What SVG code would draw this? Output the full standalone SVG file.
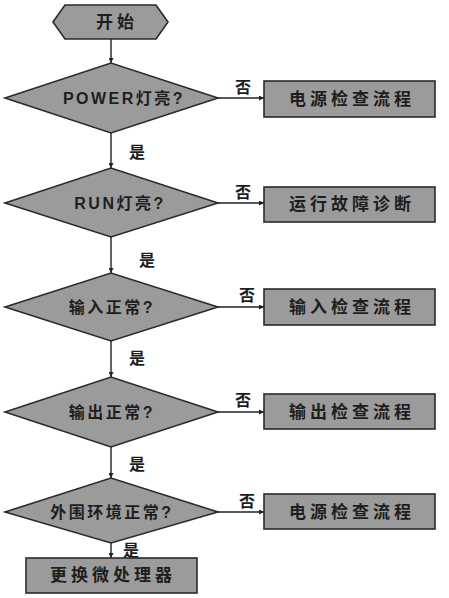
<svg xmlns="http://www.w3.org/2000/svg" width="449" height="598" viewBox="0 0 449 598">
<defs>
<marker id="ah" viewBox="0 0 6 6" refX="6" refY="3" markerWidth="5" markerHeight="5" orient="auto" markerUnits="userSpaceOnUse">
<path d="M0,0 L6,3 L0,6 Z" fill="#222"/>
</marker>
<style>
.shape{fill:#9b9b9b;stroke:#2a2a2a;stroke-width:1.6}
.t{font-family:"Liberation Sans","Noto Sans CJK SC",sans-serif;font-weight:bold;fill:#1e1e1e;text-anchor:middle;dominant-baseline:central}
.bt{font-size:17px;letter-spacing:4px}
.dt{font-size:16px;letter-spacing:2.5px}
.lb{font-size:16px}
.c{stroke:#222;stroke-width:1.4;fill:none;marker-end:url(#ah)}
</style>
</defs>
<rect width="449" height="598" fill="#fff"/>
<g id="connectors">
<line class="c" x1="111" y1="39" x2="111" y2="63"/>
<line class="c" x1="111" y1="133" x2="111" y2="168"/>
<line class="c" x1="111" y1="237" x2="111" y2="273"/>
<line class="c" x1="111" y1="341" x2="111" y2="377"/>
<line class="c" x1="111" y1="447" x2="111" y2="478"/>
<line class="c" x1="111" y1="543" x2="111" y2="558"/>
<line class="c" x1="218" y1="98" x2="264" y2="98"/>
<line class="c" x1="218" y1="203" x2="264" y2="203"/>
<line class="c" x1="218" y1="307" x2="264" y2="307"/>
<line class="c" x1="218" y1="412" x2="264" y2="412"/>
<line class="c" x1="218" y1="512" x2="264" y2="512"/>
<text class="t lb" x="243" y="87">否</text>
<text class="t lb" x="243" y="192">否</text>
<text class="t lb" x="247" y="295">否</text>
<text class="t lb" x="243" y="400">否</text>
<text class="t lb" x="247" y="501">否</text>
<text class="t lb" x="137" y="152">是</text>
<text class="t lb" x="147" y="260">是</text>
<text class="t lb" x="137" y="358">是</text>
<text class="t lb" x="137" y="464">是</text>
<text class="t lb" x="131" y="550">是</text>
</g>
<g id="start">
<polygon class="shape" points="53,22 65,5 156,5 168,22 156,39 65,39"/>
<text class="t bt" x="117" y="22">开始</text>
</g>
<g id="d1">
<polygon class="shape" points="5,98 111,63 218,98 111,133"/>
<text class="t dt" x="124" y="98">POWER灯亮?</text>
</g>
<g id="b1">
<rect class="shape" x="264" y="81" width="171" height="36"/>
<text class="t bt" x="352" y="99">电源检查流程</text>
</g>
<g id="d2">
<polygon class="shape" points="5,203 111,168 218,203 111,237"/>
<text class="t dt" x="120" y="203">RUN灯亮?</text>
</g>
<g id="b2">
<rect class="shape" x="264" y="187" width="171" height="35"/>
<text class="t bt" x="352" y="204">运行故障诊断</text>
</g>
<g id="d3">
<polygon class="shape" points="5,307 111,273 218,307 111,341"/>
<text class="t dt" x="112" y="307">输入正常?</text>
</g>
<g id="b3">
<rect class="shape" x="264" y="289" width="171" height="36"/>
<text class="t bt" x="352" y="307">输入检查流程</text>
</g>
<g id="d4">
<polygon class="shape" points="5,412 111,377 218,412 111,447"/>
<text class="t dt" x="112" y="412">输出正常?</text>
</g>
<g id="b4">
<rect class="shape" x="264" y="394" width="171" height="35"/>
<text class="t bt" x="352" y="412">输出检查流程</text>
</g>
<g id="d5">
<polygon class="shape" points="5,512 111,478 218,512 111,543"/>
<text class="t dt" x="112" y="512">外围环境正常?</text>
</g>
<g id="b5">
<rect class="shape" x="264" y="494" width="171" height="35"/>
<text class="t bt" x="352" y="512">电源检查流程</text>
</g>
<g id="end">
<rect class="shape" x="26" y="558" width="171" height="35"/>
<text class="t bt" x="113" y="575">更换微处理器</text>
</g>
</svg>
